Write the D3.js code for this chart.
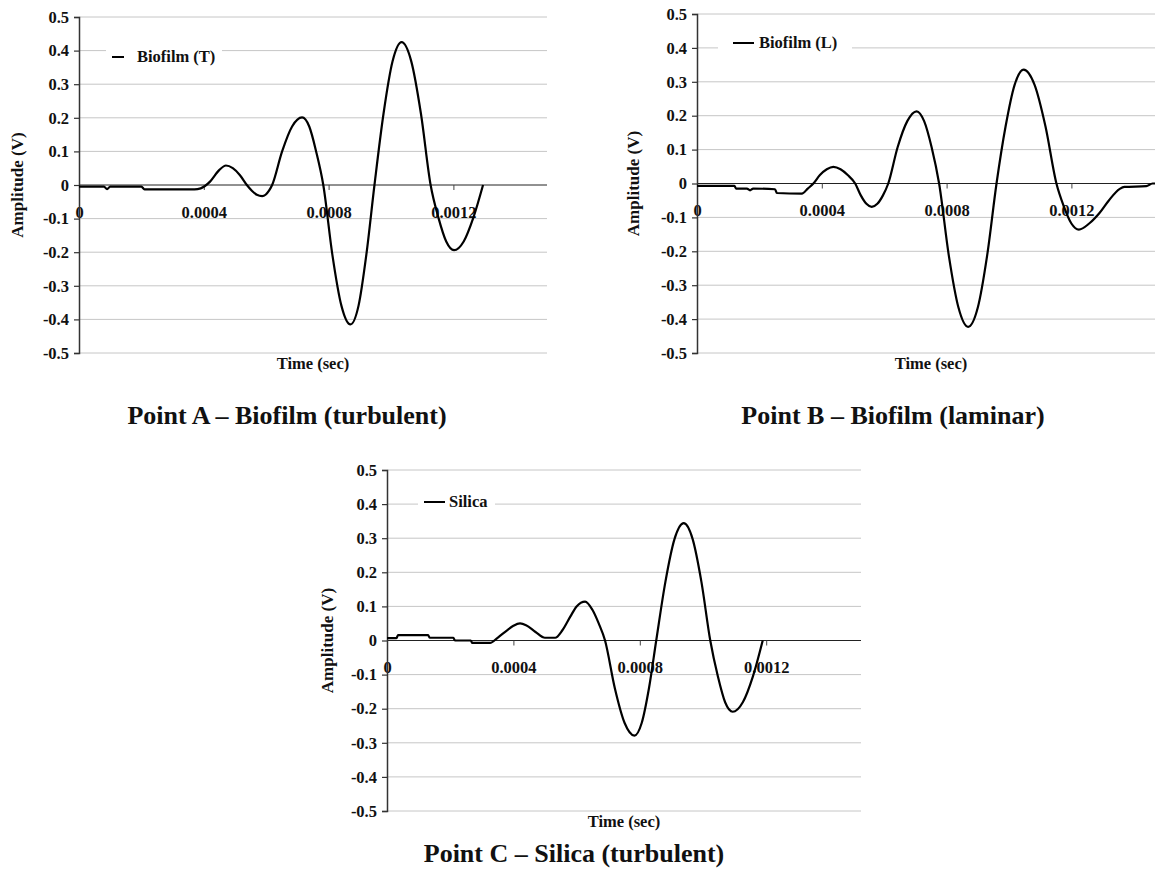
<!DOCTYPE html>
<html>
<head>
<meta charset="utf-8">
<script src="https://cdn.jsdelivr.net/npm/d3@7/dist/d3.min.js"></script>
<style>
  html, body { margin: 0; padding: 0; background: #fff; }
  svg { display: block; }
  text { font-family: "Liberation Serif", "Times New Roman", serif; font-weight: bold; fill: #111; }
</style>
</head>
<body>
<svg id="chart" width="1155" height="896"></svg>
<script>
// ---- data: ultrasonic echo amplitude (V) versus time (s) ----
const timeA = [0, 0.00008, 0.00009, 0.0001, 0.0002, 0.00021, 0.00037, 0.00039, 0.00042, 0.00045, 0.000471,
  0.000493, 0.000516, 0.000538, 0.000554, 0.00057, 0.000587, 0.000598, 0.000609, 0.000619,
  0.000651, 0.000683, 0.000715, 0.000738, 0.00076, 0.000783, 0.000812, 0.000841, 0.00087,
  0.000896, 0.000921, 0.000947, 0.000976, 0.001005, 0.001034, 0.001065, 0.001096, 0.001127,
  0.001152, 0.001177, 0.001202, 0.001233, 0.001264, 0.001295];
const ampA = [-0.005, -0.005, -0.012, -0.005, -0.005, -0.013, -0.013, -0.010, 0.010, 0.045, 0.058,
  0.050, 0.029, 0.000, -0.017, -0.029, -0.033, -0.029, -0.017, 0.000,
  0.100, 0.174, 0.201, 0.174, 0.100, 0.000, -0.207, -0.359, -0.415,
  -0.359, -0.207, 0.000, 0.212, 0.368, 0.425, 0.368, 0.212, 0.000,
  -0.097, -0.168, -0.194, -0.168, -0.097, 0.000];

const timeB = [0, 0.00012, 0.000125, 0.00016, 0.00017, 0.00018, 0.00025, 0.000256, 0.000336, 0.000355,
  0.000373, 0.000394, 0.000416, 0.000437, 0.00046, 0.000483, 0.000507, 0.000525, 0.000543, 0.00056,
  0.000578, 0.000596, 0.000613, 0.000643, 0.000674, 0.000704, 0.000728, 0.000752, 0.000776,
  0.000807, 0.000838, 0.000869, 0.0009, 0.00093, 0.00096, 0.000989, 0.001018, 0.001047,
  0.001082, 0.001117, 0.001152, 0.001176, 0.0012, 0.001224, 0.001257, 0.00129, 0.00132,
  0.001355, 0.00137, 0.00144, 0.00146, 0.00147];
const ampB = [-0.007, -0.007, -0.015, -0.015, -0.020, -0.015, -0.017, -0.028, -0.030, -0.015,
  0.000, 0.025, 0.042, 0.049, 0.042, 0.025, 0.000, -0.035, -0.060, -0.069,
  -0.060, -0.035, 0.000, 0.107, 0.184, 0.213, 0.184, 0.107, 0.000,
  -0.212, -0.366, -0.423, -0.366, -0.212, 0.000, 0.168, 0.291, 0.336,
  0.291, 0.168, 0.000, -0.068, -0.118, -0.136, -0.118, -0.087, -0.050,
  -0.016, -0.010, -0.008, 0.000, 0.000];

const timeC = [0, 0.00003, 0.000035, 0.00013, 0.000135, 0.00021, 0.000215, 0.000265, 0.00027, 0.000326,
  0.00035, 0.00038, 0.0004, 0.000421, 0.00044, 0.00047, 0.0005, 0.000532, 0.000555, 0.00058,
  0.0006, 0.000627, 0.00065, 0.00067, 0.00069, 0.000721, 0.000752, 0.000783, 0.000806, 0.000829,
  0.000852, 0.000881, 0.00091, 0.000939, 0.000967, 0.000995, 0.001023, 0.001047, 0.00107,
  0.001094, 0.001126, 0.001158, 0.001189];
const ampC = [0.007, 0.007, 0.016, 0.016, 0.008, 0.008, 0.000, 0.000, -0.007, -0.007,
  0.008, 0.030, 0.043, 0.050, 0.045, 0.025, 0.008, 0.008, 0.030, 0.070,
  0.100, 0.114, 0.090, 0.050, 0.000, -0.140, -0.242, -0.279, -0.242, -0.140,
  0.000, 0.172, 0.298, 0.344, 0.298, 0.172, 0.000, -0.105, -0.181,
  -0.209, -0.181, -0.105, 0.000];

const seriesNames = ["Biofilm (T)", "Biofilm (L)", "Silica"];
const panelTitles = ["Point A \u2013 Biofilm (turbulent)", "Point B \u2013 Biofilm (laminar)", "Point C \u2013 Silica (turbulent)"];
const xTicks = [0, 0.0004, 0.0008, 0.0012];
const xTickLabels = ["0", "0.0004", "0.0008", "0.0012"];
const yTicks = [-0.5, -0.4, -0.3, -0.2, -0.1, 0, 0.1, 0.2, 0.3, 0.4, 0.5];
const yTickLabels = ["-0.5", "-0.4", "-0.3", "-0.2", "-0.1", "0", "0.1", "0.2", "0.3", "0.4", "0.5"];
const xDomain = [0, 0.0015];
const yDomain = [-0.5, 0.5];
const xTitle = "Time (sec)";
const yTitle = "Amplitude (V)";

// ---- layout of the three panels ----
const panels = [
  { t: timeA, v: ampA, name: seriesNames[0], title: panelTitles[0],
    left: 79, right: 547, top: 17, bottom: 353,
    leg: { x0: 106, x1: 222, y0: 45, y1: 69, lx0: 112, lx1: 124, ly: 57, tx: 137, ty: 62 },
    yTitleX: 17, titleX: 287, titleY: 424 },
  { t: timeB, v: ampB, name: seriesNames[1], title: panelTitles[1],
    left: 697, right: 1165, top: 14, bottom: 353,
    leg: { x0: 718, x1: 852, y0: 32, y1: 56, lx0: 733, lx1: 754, ly: 43, tx: 759, ty: 48 },
    yTitleX: 633, titleX: 893, titleY: 424 },
  { t: timeC, v: ampC, name: seriesNames[2], title: panelTitles[2],
    left: 387, right: 861, top: 470, bottom: 811,
    leg: { x0: 418, x1: 495, y0: 491, y1: 514, lx0: 424, lx1: 445, ly: 502, tx: 449, ty: 507 },
    yTitleX: 327, titleX: 574, titleY: 862 }
];

const tickFont = 16.5;
const labelFont = 16.5;
const captionFont = 26;

const svg = d3.select("#chart");

panels.forEach(p => {
  const x = d3.scaleLinear().domain(xDomain).range([p.left, p.right]);
  const y = d3.scaleLinear().domain(yDomain).range([p.bottom, p.top]);
  const g = svg.append("g");

  // horizontal gridlines
  g.append("g").selectAll("line")
    .data(yTicks.filter(d => d !== 0))
    .join("line")
    .attr("x1", p.left).attr("x2", p.right)
    .attr("y1", d => y(d)).attr("y2", d => y(d))
    .attr("stroke", "#c6c6c6").attr("stroke-width", 1);

  // legend box (white, borderless) sits over the 0.4 gridline
  g.append("rect")
    .attr("x", p.leg.x0).attr("y", p.leg.y0)
    .attr("width", p.leg.x1 - p.leg.x0).attr("height", p.leg.y1 - p.leg.y0)
    .attr("fill", "#fff");
  g.append("line")
    .attr("x1", p.leg.lx0).attr("x2", p.leg.lx1)
    .attr("y1", p.leg.ly).attr("y2", p.leg.ly)
    .attr("stroke", "#000").attr("stroke-width", 2);
  g.append("text")
    .attr("x", p.leg.tx).attr("y", p.leg.ty)
    .attr("font-size", labelFont)
    .text(p.name);

  // x axis along amplitude = 0
  const xAxis = d3.axisBottom(x).tickValues(xTicks)
    .tickFormat((d, i) => xTickLabels[i])
    .tickSize(5).tickPadding(16).tickSizeOuter(0);
  const gx = g.append("g").attr("transform", `translate(0,${y(0)})`).call(xAxis);
  gx.select(".domain").attr("stroke", "#222");
  gx.selectAll(".tick line").attr("stroke", "#444");
  gx.selectAll(".tick text")
    .attr("font-size", tickFont).attr("font-family", "Liberation Serif, Times New Roman, serif")
    .attr("font-weight", "bold").attr("fill", "#111");
  // the zero line spans the full plot width
  gx.select(".domain").attr("d", `M${p.left},0H${p.right}`);

  // y axis
  const yAxis = d3.axisLeft(y).tickValues(yTicks)
    .tickFormat((d, i) => yTickLabels[i])
    .tickSize(5).tickPadding(5).tickSizeOuter(5);
  const gy = g.append("g").attr("transform", `translate(${p.left},0)`).call(yAxis);
  gy.select(".domain").attr("stroke", "#333").attr("stroke-width", 1.5);
  gy.selectAll(".tick line").attr("stroke", "#333").attr("stroke-width", 1.2);
  gy.selectAll(".tick text")
    .attr("font-size", tickFont).attr("font-family", "Liberation Serif, Times New Roman, serif")
    .attr("font-weight", "bold").attr("fill", "#111");

  // waveform
  const pts = p.t.map((t, i) => [t, p.v[i]]);
  const line = d3.line().x(d => x(d[0])).y(d => y(d[1])).curve(d3.curveMonotoneX);
  g.append("path").datum(pts)
    .attr("d", line)
    .attr("fill", "none").attr("stroke", "#000").attr("stroke-width", 2.2)
    .attr("stroke-linejoin", "round");

  // axis titles
  g.append("text")
    .attr("x", (p.left + p.right) / 2).attr("y", p.bottom + 16)
    .attr("text-anchor", "middle").attr("font-size", labelFont)
    .text(xTitle);
  g.append("text")
    .attr("transform", `translate(${p.yTitleX},${y(0)}) rotate(-90)`)
    .attr("text-anchor", "middle").attr("dy", "0.35em").attr("font-size", 17)
    .text(yTitle);

  // panel caption
  g.append("text")
    .attr("x", p.titleX).attr("y", p.titleY)
    .attr("text-anchor", "middle").attr("font-size", captionFont)
    .text(p.title);
});
</script>
</body>
</html>
